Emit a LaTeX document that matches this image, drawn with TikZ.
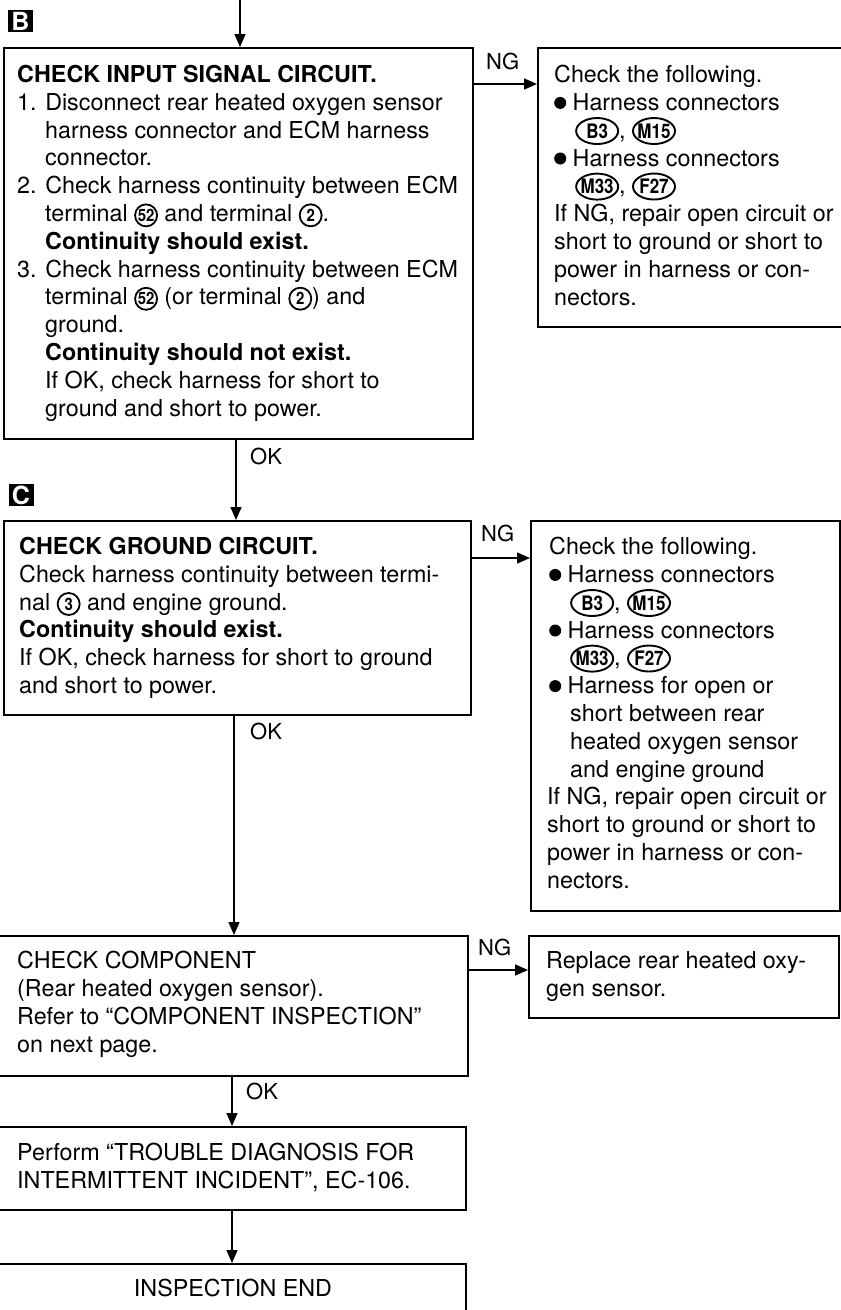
\documentclass[tikz,border=0pt]{standalone}
\usepackage{fontspec}
\usepackage{graphicx}
\setmainfont{TeX Gyre Heros}
\usetikzlibrary{arrows.meta,shapes.geometric}

\newcommand\cnum[1]{\tikz[baseline=(cn.base)]{\node[inner sep=0pt,font=\fontsize{17}{17}\selectfont\bfseries,anchor=center,align=center](cn){\scalebox{0.88}[1]{#1}};\draw[line width=1.8pt] (cn.center) circle [radius=11pt];}}
\newcommand\conn[1]{\tikz[baseline=(cc.base)]{\node[inner sep=0pt,font=\fontsize{20}{20}\selectfont\bfseries,anchor=center,align=center](cc){\scalebox{0.85}[1]{#1}};\draw[line width=1.9pt] (cc.center) ellipse [x radius=21pt,y radius=13pt];}}
\newcommand\bul{\tikz[baseline={(0,-7.5pt)}]\fill (0,0) circle (6pt);}

\begin{document}
\begin{tikzpicture}[x=1pt,y=-1pt,
  box/.style={draw,line width=1.6pt,inner sep=0pt,anchor=north west},
  txt/.style={anchor=north west,inner sep=0pt,align=left,font=\fontsize{23.3}{27.8}\selectfont},
  lbl/.style={anchor=base west,inner sep=0pt,font=\fontsize{22}{22}\selectfont},
  marker/.style={fill=black,text=white,inner sep=0pt,minimum width=25pt,minimum height=22pt,font=\fontsize{25}{25}\selectfont\bfseries},
  arr/.style={line width=1.5pt,-{Triangle[length=13pt,width=11pt]}}]
\useasboundingbox (0,0) rectangle (841,1310);

% markers
\node[marker] (mB) at (20.5,21) {B};
\node[marker] (mC) at (21,495) {C};

% boxes
\node[box,minimum width=469pt,minimum height=391pt] (boxB) at (3,47) {};
\node[box,minimum width=312pt,minimum height=279pt] (r1) at (537,47) {};
\node[box,minimum width=467pt,minimum height=194pt] (boxC) at (3,520) {};
\node[box,minimum width=309pt,minimum height=390pt] (r2) at (530,520) {};
\node[box,minimum width=471pt,minimum height=140pt] (comp) at (-4,935) {};
\node[box,minimum width=310pt,minimum height=82pt] (repl) at (528,935) {};
\node[box,minimum width=469pt,minimum height=83pt] (perf) at (-4,1126) {};
\node[box,minimum width=469pt,minimum height=80pt] (endb) at (-4,1263) {};

% texts
\node[txt] (tB) at (17,65) {\rule{0pt}{17pt}\textbf{CHECK INPUT SIGNAL CIRCUIT.}\\
1. Disconnect rear heated oxygen sensor\\
\hspace*{28pt}harness connector and ECM harness\\
\hspace*{28pt}connector.\\
2. Check harness continuity between ECM\\
\hspace*{28pt}terminal \cnum{52} and terminal \cnum{2}.\\
\hspace*{28pt}\textbf{Continuity should exist.}\\
3. Check harness continuity between ECM\\
\hspace*{28pt}terminal \cnum{52} (or terminal \cnum{2}) and\\
\hspace*{28pt}ground.\\
\hspace*{28pt}\textbf{Continuity should not exist.}\\
\hspace*{28pt}If OK, check harness for short to\\
\hspace*{28pt}ground and short to power.};

\node[txt] (t1) at (554,65) {\rule{0pt}{17pt}Check the following.\\
\bul\ Harness connectors\\
\hspace*{21pt}\conn{B3}, \conn{M15}\\
\bul\ Harness connectors\\
\hspace*{21pt}\conn{M33}, \conn{F27}\\
If NG, repair open circuit or\\
short to ground or short to\\
power in harness or con-\\
nectors.};

\node[txt] (tC) at (19,537) {\rule{0pt}{17pt}\textbf{CHECK GROUND CIRCUIT.}\\
Check harness continuity between termi-\\
nal \cnum{3} and engine ground.\\
\textbf{Continuity should exist.}\\
If OK, check harness for short to ground\\
and short to power.};

\node[txt] (t2) at (547,537) {\rule{0pt}{17pt}\hspace*{2pt}Check the following.\\
\hspace*{2pt}\bul\ Harness connectors\\
\hspace*{23pt}\conn{B3}, \conn{M15}\\
\hspace*{2pt}\bul\ Harness connectors\\
\hspace*{23pt}\conn{M33}, \conn{F27}\\
\hspace*{2pt}\bul\ Harness for open or\\
\hspace*{23pt}short between rear\\
\hspace*{23pt}heated oxygen sensor\\
\hspace*{23pt}and engine ground\\
If NG, repair open circuit or\\
short to ground or short to\\
power in harness or con-\\
nectors.};

\node[txt] (tcomp) at (17,951) {\rule{0pt}{17pt}CHECK COMPONENT\\
(Rear heated oxygen sensor).\\
Refer to “COMPONENT INSPECTION”\\
on next page.};

\node[txt] (trepl) at (546,951) {\rule{0pt}{17pt}Replace rear heated oxy-\\
gen sensor.};

\node[txt] (tperf) at (17,1143) {\rule{0pt}{17pt}Perform “TROUBLE DIAGNOSIS FOR\\
INTERMITTENT INCIDENT”, EC-106.};

\node[anchor=base,inner sep=0pt,font=\fontsize{23.3}{27.8}\selectfont] (tend) at (233,1296) {INSPECTION END};

% connectors
\coordinate (top) at (240,0);
\draw[arr] (top) -- (top |- boxB.north);
\draw[arr] (boxB.south -| 236,0) -- (boxC.north -| 236,0);
\draw[arr] (boxC.south -| 234,0) -- (comp.north -| 234,0);
\draw[arr] (comp.south -| 232,0) -- (perf.north -| 232,0);
\draw[arr] (perf.south -| 232,0) -- (endb.north -| 232,0);

\draw[arr] ([yshift=-37pt]boxB.north east) -- ([yshift=-37pt]r1.north west);
\draw[arr] ([yshift=-38pt]boxC.north east) -- ([yshift=-38pt]r2.north west);
\draw[arr] ([yshift=-35pt]comp.north east) -- ([yshift=-35pt]repl.north west);

% labels
\node[lbl] (ng1) at (486,69) {NG};
\node[lbl] (ng2) at (481,541) {NG};
\node[lbl] (ng3) at (478,955) {NG};
\node[lbl] (ok1) at (250,464) {OK};
\node[lbl] (ok2) at (250,739) {OK};
\node[lbl] (ok3) at (246,1099) {OK};
\end{tikzpicture}
\end{document}
